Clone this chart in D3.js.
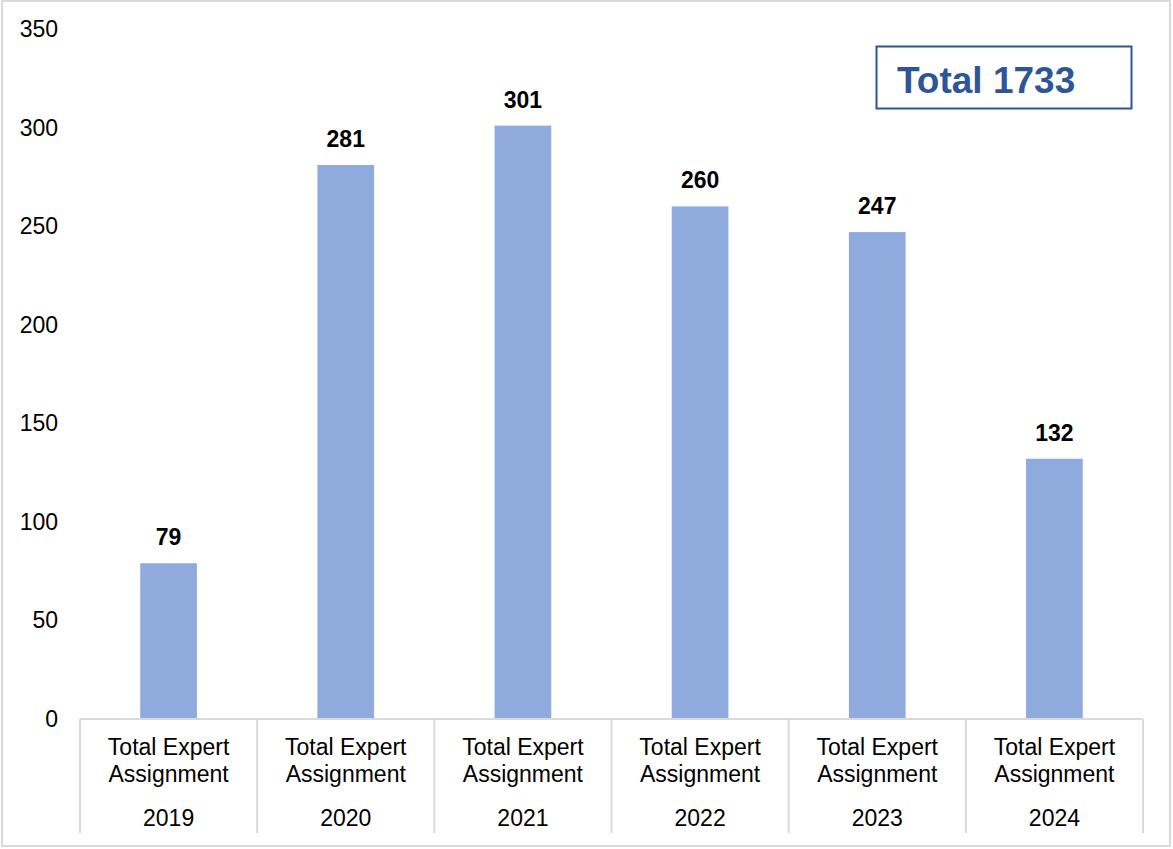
<!DOCTYPE html>
<html>
<head>
<meta charset="utf-8">
<script src="https://cdn.jsdelivr.net/npm/d3@7"></script>
<style>
  body { margin: 0; background: #fff; }
  text { font-family: "Liberation Sans", Arial, sans-serif; }
</style>
</head>
<body>
<script>
// chart values
const years = ["2019", "2020", "2021", "2022", "2023", "2024"];
const innerLabel = ["Total Expert", "Assignment"];
const values = [79, 281, 301, 260, 247, 132];
const yTicks = [0, 50, 100, 150, 200, 250, 300, 350];
const totalLabel = "Total 1733";

const width = 1173, height = 849;

const svg = d3.select("body").append("svg")
  .attr("width", width)
  .attr("height", height);

// outer chart border
svg.append("rect")
  .attr("x", 2).attr("y", 1)
  .attr("width", 1168).attr("height", 845)
  .attr("fill", "#fff")
  .attr("stroke", "#d9d9d9")
  .attr("stroke-width", 2);

const x = d3.scaleBand()
  .domain(years)
  .range([80, 1143])
  .paddingInner(0.68)
  .paddingOuter(0.34);

const y = d3.scaleLinear()
  .domain([0, 350])
  .range([719, 29]);

// y labels (no axis line in the reference)
svg.append("g")
  .selectAll("text")
  .data(yTicks)
  .join("text")
  .attr("x", 58)
  .attr("y", d => y(d))
  .attr("dy", "0.35em")
  .attr("text-anchor", "end")
  .attr("font-size", 23)
  .attr("fill", "#000")
  .text(d => d);

// bars
svg.append("g")
  .selectAll("rect")
  .data(values)
  .join("rect")
  .attr("x", (d, i) => x(years[i]))
  .attr("y", d => y(d))
  .attr("width", x.bandwidth())
  .attr("height", d => y(0) - y(d))
  .attr("fill", "#8faadc");

// value labels
svg.append("g")
  .selectAll("text")
  .data(values)
  .join("text")
  .attr("x", (d, i) => x(years[i]) + x.bandwidth() / 2)
  .attr("y", d => y(d) - 18)
  .attr("text-anchor", "middle")
  .attr("font-size", 23)
  .attr("font-weight", "bold")
  .attr("fill", "#000")
  .text(d => d);

// category axis: baseline + separators
const step = x.step();
const axisLeft = x.range()[0];
svg.append("line")
  .attr("x1", axisLeft).attr("x2", x.range()[1])
  .attr("y1", y(0)).attr("y2", y(0))
  .attr("stroke", "#d9d9d9").attr("stroke-width", 2);

svg.append("g")
  .selectAll("line")
  .data(d3.range(years.length + 1))
  .join("line")
  .attr("x1", i => axisLeft + i * step)
  .attr("x2", i => axisLeft + i * step)
  .attr("y1", y(0))
  .attr("y2", 833)
  .attr("stroke", "#d9d9d9")
  .attr("stroke-width", 2);

const cats = svg.append("g")
  .selectAll("g")
  .data(years)
  .join("g")
  .attr("transform", d => `translate(${x(d) + x.bandwidth() / 2},0)`);

cats.append("text")
  .attr("text-anchor", "middle")
  .attr("font-size", 23)
  .attr("fill", "#000")
  .selectAll("tspan")
  .data(innerLabel)
  .join("tspan")
  .attr("x", 0)
  .attr("y", (d, i) => 755 + i * 27)
  .text(d => d);

cats.append("text")
  .attr("text-anchor", "middle")
  .attr("y", 826)
  .attr("font-size", 23)
  .attr("fill", "#000")
  .text(d => d);

// total box
svg.append("rect")
  .attr("x", 876.5).attr("y", 46.5)
  .attr("width", 255).attr("height", 62)
  .attr("fill", "#fff")
  .attr("stroke", "#2f5597")
  .attr("stroke-width", 2);

svg.append("text")
  .attr("x", 897)
  .attr("y", 93)
  .attr("font-size", 37)
  .attr("font-weight", "bold")
  .attr("fill", "#2f5597")
  .text(totalLabel);
</script>
</body>
</html>
